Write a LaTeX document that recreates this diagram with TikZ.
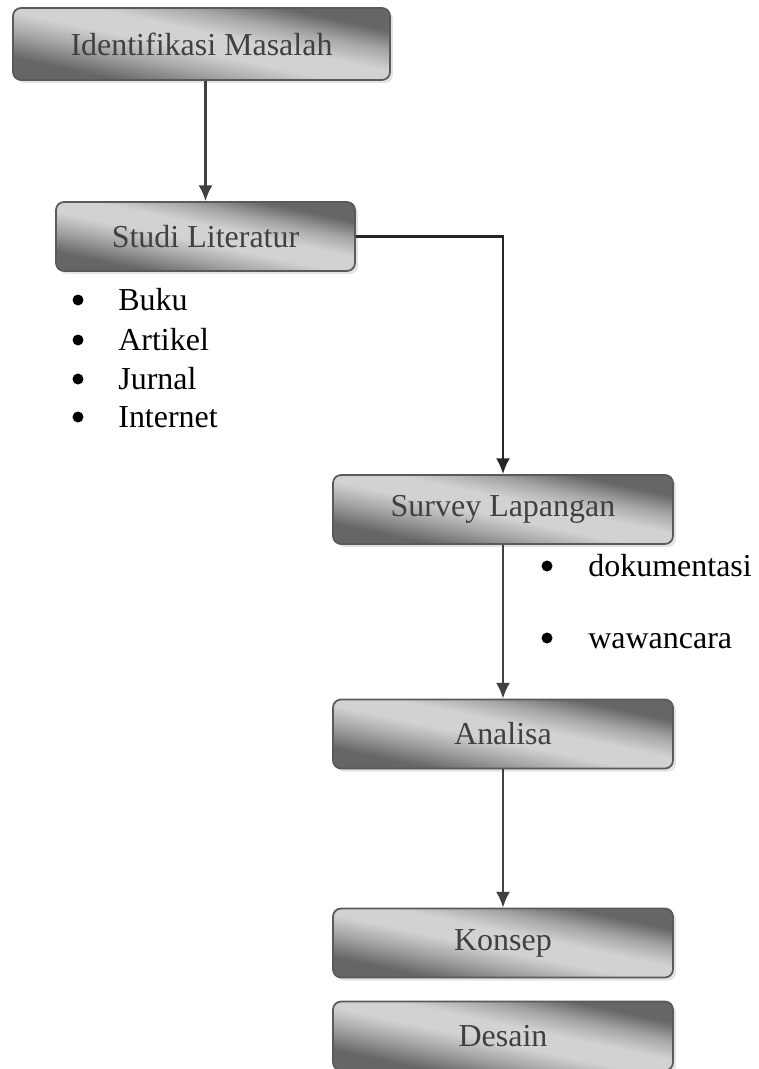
\documentclass[tikz,border=0pt]{standalone}
\usepackage{fontspec}
\setmainfont{Liberation Serif}
\usepackage{tikz}
\usetikzlibrary{arrows.meta,shadows}
\definecolor{boxdark}{HTML}{666666}
\definecolor{boxmid}{HTML}{A6A6A6}
\definecolor{boxlight}{HTML}{D2D2D2}
\definecolor{boxline}{HTML}{5A5A5A}
\definecolor{boxtext}{HTML}{404040}
\def\bigfont{\fontsize{18.2}{22}\selectfont}
\pgfdeclareverticalshading{boxshade}{100bp}{color(0bp)=(boxdark); color(29bp)=(boxdark);
    color(39bp)=(boxmid); color(47bp)=(boxlight); color(55bp)=(boxlight);
    color(63bp)=(boxmid); color(71bp)=(boxdark); color(100bp)=(boxdark)}

\begin{document}
\begin{tikzpicture}[x=0.02cm,y=0.02cm,>={Latex[length=9pt,width=8pt]},
    stepbox/.style={draw=boxline,line width=1pt,rounded corners=0.16cm,
        shading=boxshade,shading angle=-12,
        drop shadow={shadow xshift=0.06cm,shadow yshift=-0.06cm,fill=black!22},
        text=boxtext,font=\bigfont,minimum height=1.38cm,inner sep=0pt},
    flow/.style={->,draw=boxtext,line width=1.3pt},
    bullet/.style={circle,fill=black,inner sep=0pt,minimum size=0.22cm},
    itemtext/.style={anchor=base west,font=\bigfont,inner sep=0pt}]
    \useasboundingbox (0,0) rectangle (759,-1069);

    \node[stepbox,minimum width=7.54cm,minimum height=1.44cm] (ident) at (201.5,-44) {Identifikasi Masalah};
    \node[stepbox,minimum width=5.98cm] (studi) at (205.5,-236.5) {Studi Literatur};
    \node[stepbox,minimum width=6.8cm] (survey) at (503,-509.5) {Survey Lapangan};
    \node[stepbox,minimum width=6.8cm] (analisa) at (503,-734) {Analisa};
    \node[stepbox,minimum width=6.8cm] (konsep) at (503,-943) {Konsep};
    \node[stepbox,minimum width=6.8cm] (desain) at (503,-1036) {Desain};

    % sumber literatur
    \node[bullet] (b1) at (78,-300) {};
    \node[itemtext] (buku) at (118,-310) {Buku};
    \node[bullet] (b2) at (78,-340) {};
    \node[itemtext] (artikel) at (118,-350) {Artikel};
    \node[bullet] (b3) at (78,-379) {};
    \node[itemtext] (jurnal) at (118,-389) {Jurnal};
    \node[bullet] (b4) at (78,-417) {};
    \node[itemtext] (internet) at (118,-427) {Internet};

    % metode survey
    \node[bullet] (b5) at (547,-566) {};
    \node[itemtext] (doku) at (588,-576) {dokumentasi};
    \node[bullet] (b6) at (547,-638) {};
    \node[itemtext] (wawan) at (588,-648) {wawancara};

    \draw[flow] (studi.north |- ident.south) -- (studi.north);
    \draw[->,line width=1.3pt,draw=black!85] (studi.east) -| (survey.north);
    \draw[flow] (survey) -- (analisa);
    \draw[flow] (analisa) -- (konsep);

\end{tikzpicture}
\end{document}
